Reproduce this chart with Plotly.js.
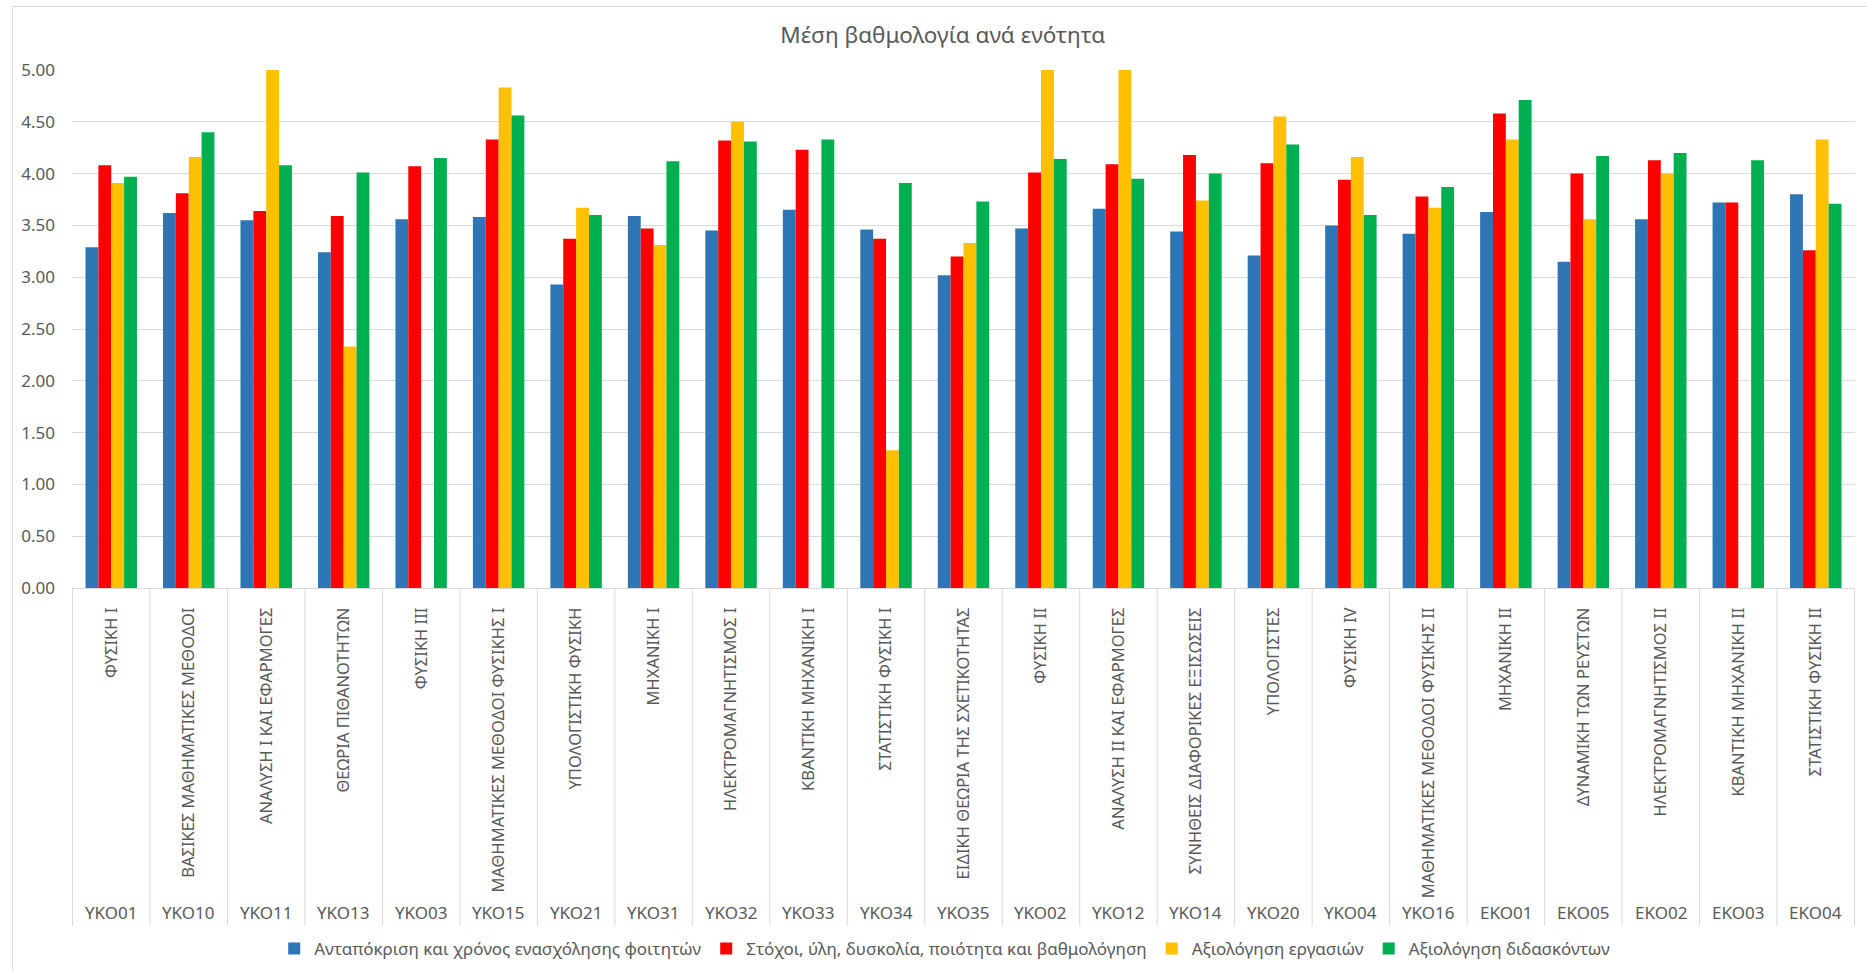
<!DOCTYPE html>
<html>
<head>
<meta charset="utf-8">
<script src="https://cdn.plot.ly/plotly-3.0.1.min.js"></script>
<style>
  html, body { margin: 0; padding: 0; background: #ffffff; overflow: hidden; }
  #frame { position: absolute; left: 12px; top: 6px; width: 1900px; height: 1000px;
           border-left: 1px solid #d9d9d9; border-top: 1px solid #d9d9d9; pointer-events: none; }
  #chart { position: absolute; left: 0; top: 0; width: 1867px; height: 971px; }
</style>
</head>
<body>
<div id="chart"></div>
<div id="frame"></div>
<script>
const codes = ["ΥΚΟ01","ΥΚΟ10","ΥΚΟ11","ΥΚΟ13","ΥΚΟ03","ΥΚΟ15","ΥΚΟ21","ΥΚΟ31","ΥΚΟ32","ΥΚΟ33","ΥΚΟ34","ΥΚΟ35","ΥΚΟ02","ΥΚΟ12","ΥΚΟ14","ΥΚΟ20","ΥΚΟ04","ΥΚΟ16","ΕΚΟ01","ΕΚΟ05","ΕΚΟ02","ΕΚΟ03","ΕΚΟ04"];
const courses = ["ΦΥΣΙΚΗ Ι","ΒΑΣΙΚΕΣ ΜΑΘΗΜΑΤΙΚΕΣ ΜΕΘΟΔΟΙ","ΑΝΑΛΥΣΗ Ι ΚΑΙ ΕΦΑΡΜΟΓΕΣ","ΘΕΩΡΙΑ ΠΙΘΑΝΟΤΗΤΩΝ","ΦΥΣΙΚΗ ΙΙΙ","ΜΑΘΗΜΑΤΙΚΕΣ ΜΕΘΟΔΟΙ ΦΥΣΙΚΗΣ Ι","ΥΠΟΛΟΓΙΣΤΙΚΗ ΦΥΣΙΚΗ","ΜΗΧΑΝΙΚΗ Ι","ΗΛΕΚΤΡΟΜΑΓΝΗΤΙΣΜΟΣ Ι","ΚΒΑΝΤΙΚΗ ΜΗΧΑΝΙΚΗ Ι","ΣΤΑΤΙΣΤΙΚΗ ΦΥΣΙΚΗ Ι","ΕΙΔΙΚΗ ΘΕΩΡΙΑ ΤΗΣ ΣΧΕΤΙΚΟΤΗΤΑΣ","ΦΥΣΙΚΗ ΙΙ","ΑΝΑΛΥΣΗ ΙΙ ΚΑΙ ΕΦΑΡΜΟΓΕΣ","ΣΥΝΗΘΕΙΣ ΔΙΑΦΟΡΙΚΕΣ ΕΞΙΣΩΣΕΙΣ","ΥΠΟΛΟΓΙΣΤΕΣ","ΦΥΣΙΚΗ IV","ΜΑΘΗΜΑΤΙΚΕΣ ΜΕΘΟΔΟΙ ΦΥΣΙΚΗΣ ΙΙ","ΜΗΧΑΝΙΚΗ ΙΙ","ΔΥΝΑΜΙΚΗ ΤΩΝ ΡΕΥΣΤΩΝ","ΗΛΕΚΤΡΟΜΑΓΝΗΤΙΣΜΟΣ ΙΙ","ΚΒΑΝΤΙΚΗ ΜΗΧΑΝΙΚΗ ΙΙ","ΣΤΑΤΙΣΤΙΚΗ ΦΥΣΙΚΗ ΙΙ"];

const seriesNames = ["Ανταπόκριση και χρόνος ενασχόλησης φοιτητών","Στόχοι, ύλη, δυσκολία, ποιότητα και βαθμολόγηση","Αξιολόγηση εργασιών","Αξιολόγηση διδασκόντων"];

const responseTime = [3.29,3.62,3.55,3.24,3.56,3.58,2.93,3.59,3.45,3.65,3.46,3.02,3.47,3.66,3.44,3.21,3.50,3.42,3.63,3.15,3.56,3.72,3.80];
const goalsMaterial = [4.08,3.81,3.64,3.59,4.07,4.33,3.37,3.47,4.32,4.23,3.37,3.20,4.01,4.09,4.18,4.10,3.94,3.78,4.58,4.00,4.13,3.72,3.26];
const assignments = [3.91,4.16,5.00,2.33,null,4.83,3.67,3.31,4.50,null,1.33,3.33,5.00,5.00,3.74,4.55,4.16,3.67,4.33,3.56,4.00,null,4.33];
const instructors = [3.97,4.40,4.08,4.01,4.15,4.56,3.60,4.12,4.31,4.33,3.91,3.73,4.14,3.95,4.00,4.28,3.60,3.87,4.71,4.17,4.20,4.13,3.71];

const yTicks = [0,0.5,1,1.5,2,2.5,3,3.5,4,4.5,5];

const colors = ["#2E75B6","#FF0000","#FFC000","#00B050"];
const values = [responseTime, goalsMaterial, assignments, instructors];

const traces = values.map((v, i) => ({
  type: "bar",
  name: seriesNames[i],
  x: courses,
  y: v,
  marker: { color: colors[i], line: { width: 0 } },
  hoverinfo: "y+name"
}));

const fontFam = "Noto Sans, Open Sans, DejaVu Sans, sans-serif";
const gray = "#595959";
const lineGray = "#d9d9d9";

// outer category level: course codes, placed under each category
const codeAnnotations = codes.map((c, i) => ({
  text: c,
  x: courses[i], xref: "x",
  y: -0.627, yref: "paper",
  xanchor: "center", yanchor: "middle",
  showarrow: false,
  font: { family: fontFam, size: 17, color: gray }
}));

// category dividers (between categories, plus both ends)
const dividers = [];
for (let i = 0; i <= courses.length; i++) {
  dividers.push({
    type: "line", xref: "x", yref: "paper",
    x0: i - 0.5, x1: i - 0.5, y0: 0, y1: -0.652,
    line: { color: lineGray, width: 1 }
  });
}

const layout = {
  width: 1867,
  height: 971,
  paper_bgcolor: "#ffffff",
  plot_bgcolor: "#ffffff",
  font: { family: fontFam, color: gray, size: 17 },
  title: {
    text: "Μέση βαθμολογία ανά ενότητα",
    font: { family: fontFam, size: 22.5, color: gray },
    x: 0.505, xref: "container", xanchor: "center",
    y: 0.964, yref: "container", yanchor: "middle"
  },
  margin: { l: 72, r: 12, t: 70, b: 383, pad: 0, autoexpand: false },
  barmode: "group",
  bargap: 0.336,
  bargroupgap: 0,
  showlegend: true,
  legend: {
    orientation: "h",
    x: 0.506, xanchor: "center", xref: "container",
    y: -0.697, yanchor: "middle", yref: "paper",
    font: { family: fontFam, size: 17, color: gray },
    traceorder: "normal",
    itemwidth: 30,
    bgcolor: "rgba(0,0,0,0)"
  },
  xaxis: {
    type: "category",
    tickangle: -90,
    tickfont: { family: fontFam, size: 16.5, color: gray },
    showline: true,
    linecolor: lineGray,
    linewidth: 1,
    showgrid: false,
    ticks: "",
    ticklabelstandoff: 12,
    automargin: false,
    fixedrange: true
  },
  yaxis: {
    range: [0, 5],
    tickmode: "array",
    tickvals: yTicks,
    tickformat: ".2f",
    tickfont: { family: fontFam, size: 17, color: gray },
    showgrid: true,
    gridcolor: lineGray,
    gridwidth: 1,
    zeroline: false,
    showline: false,
    ticks: "",
    ticklabelstandoff: 16,
    automargin: false,
    fixedrange: true
  },
  annotations: codeAnnotations,
  shapes: dividers
};

Plotly.newPlot("chart", traces, layout, { displayModeBar: false, staticPlot: true });
</script>
</body>
</html>
